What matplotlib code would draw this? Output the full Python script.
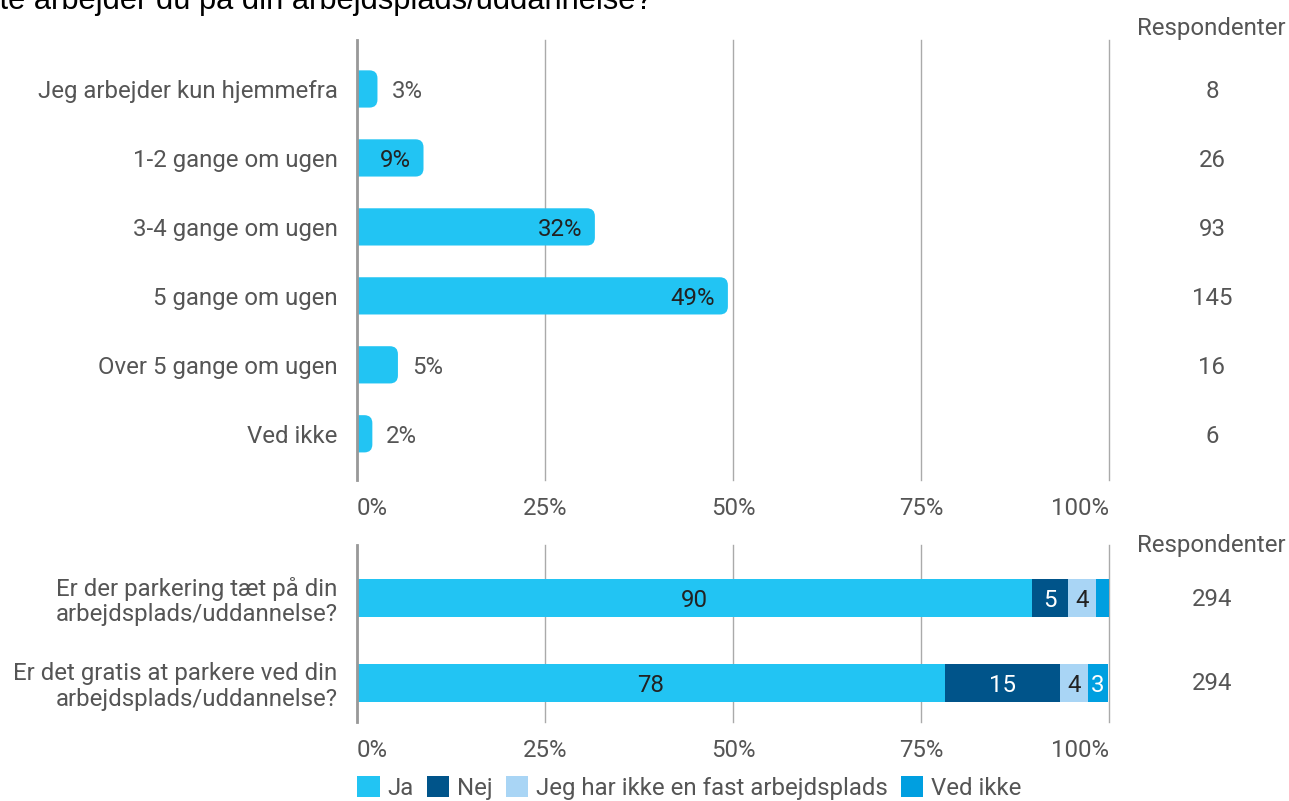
import matplotlib

matplotlib.use("Agg")
import matplotlib.pyplot as plt
from matplotlib.patches import FancyBboxPatch, Patch

# -- data
TITLE = "Hvor ofte arbejder du på din arbejdsplads/uddannelse?"
freq_labels = ["Jeg arbejder kun hjemmefra", "1-2 gange om ugen", "3-4 gange om ugen",
               "5 gange om ugen", "Over 5 gange om ugen", "Ved ikke"]
freq_counts = [8, 26, 93, 145, 16, 6]

park_labels = ["Er der parkering tæt på din\narbejdsplads/uddannelse?",
               "Er det gratis at parkere ved din\narbejdsplads/uddannelse?"]
park_series = ["Ja", "Nej", "Jeg har ikke en fast arbejdsplads", "Ved ikke"]
park_ja = [89.8, 78.2]
park_nej = [4.8, 15.3]
park_ingen = [3.7, 3.7]
park_vedikke = [1.7, 2.7]
park_respondents = [294, 294]
x_ticks = [0, 25, 50, 75, 100]

# -- style
BAR = "#22c4f3"
SERIES_COLORS = ["#22c4f3", "#00548a", "#a9d5f5", "#009fe0"]
LABEL_ON = ["#222222", "#ffffff", "#222222", "#ffffff"]
TEXT = "#555555"
DARK = "#222222"
GRID = "#aaaaaa"
FONT = "Roboto"
FS = 17.3

W, H = 1289, 801
fig = plt.figure(figsize=(W / 100, H / 100), dpi=100)
fig.patch.set_facecolor("white")


def px(x0, y0, x1, y1):
    return [x0 / W, 1 - y1 / H, (x1 - x0) / W, (y1 - y0) / H]


ax_top = fig.add_axes(px(357, 40, 1109, 480))
ax_bot = fig.add_axes(px(357, 545, 1109, 722))

# -- 1) frequency bars (rounded right end)
total = sum(freq_counts)
shares = [c / total * 100 for c in freq_counts]
ax_top.set_xlim(0, 100)
ax_top.set_ylim(5.67, -0.71)
bh = 0.54
x_per_px = 100 / 752
y_per_px = 6.38 / 440
aspect = y_per_px / x_per_px
for i, v in enumerate(shares):
    box = FancyBboxPatch((-3, i - bh / 2), v + 3, bh,
                         boxstyle=f"round,pad=0,rounding_size={8 * x_per_px}",
                         mutation_aspect=aspect, facecolor=BAR, edgecolor="none", zorder=3)
    ax_top.add_patch(box)
    lab = f"{v:.0f}%"
    if v > 7:
        ax_top.text(v - 13 * x_per_px, i, lab, ha="right", va="center_baseline", color=DARK,
                    fontsize=FS, family=FONT, zorder=4)
    else:
        ax_top.text(v + 14 * x_per_px, i, lab, ha="left", va="center_baseline", color=TEXT,
                    fontsize=FS, family=FONT, zorder=4)
    ax_top.text(1212 / W, 1 - (89 + 69 * i) / H, f"{freq_counts[i]}", transform=fig.transFigure,
                ha="center", va="center_baseline", color=TEXT, fontsize=FS, family=FONT)
ax_top.set_yticks(range(len(freq_labels)))
ax_top.set_yticklabels(freq_labels)

# -- 2) parking stacked bars
ax_bot.set_xlim(0, 100)
ax_bot.set_ylim(1.46, -0.62)
rows = list(range(len(park_labels)))
left = [0.0] * len(rows)
for s, (name, vals) in enumerate(zip(park_series, [park_ja, park_nej, park_ingen, park_vedikke])):
    ax_bot.barh(rows, vals, left=left, height=0.45, color=SERIES_COLORS[s],
                edgecolor="none", zorder=3, label=name)
    for r in rows:
        if vals[r] >= 2.5:
            ax_bot.text(left[r] + vals[r] / 2, r, f"{vals[r]:.0f}", ha="center",
                        va="center_baseline", color=LABEL_ON[s], fontsize=FS, family=FONT,
                        zorder=4)
    left = [a + b for a, b in zip(left, vals)]
for r in rows:
    ax_bot.text(1212 / W, 1 - (597 + 84 * r) / H, f"{park_respondents[r]}",
                transform=fig.transFigure, ha="center", va="center_baseline", color=TEXT,
                fontsize=FS, family=FONT)
ax_bot.set_yticks(rows)
ax_bot.set_yticklabels(park_labels, linespacing=1.15)

# -- shared axis styling
for ax in (ax_top, ax_bot):
    ax.set_xticks(x_ticks)
    ax.set_xticklabels([f"{t}%" for t in x_ticks])
    for lab, ha in zip(ax.get_xticklabels(), ["left", "center", "center", "center", "right"]):
        lab.set_horizontalalignment(ha)
    ax.grid(axis="x", color=GRID, linewidth=1.0, zorder=0)
    for gl in ax.get_xgridlines():
        gl.set_clip_on(False)
    ax.set_axisbelow(True)
    for side in ("top", "right", "bottom"):
        ax.spines[side].set_visible(False)
    ax.spines["left"].set_color("#999999")
    ax.spines["left"].set_linewidth(2)
    ax.spines["left"].set_zorder(5)
    ax.tick_params(length=0, colors=TEXT, labelsize=FS)
    ax.tick_params(axis="y", pad=14)
    ax.tick_params(axis="x", pad=12)
    for lab in ax.get_xticklabels() + ax.get_yticklabels():
        lab.set_family(FONT)
    ax.text(1211 / W, 1 - (26 if ax is ax_top else 543) / H, "Respondenter",
            transform=fig.transFigure, ha="center", va="center_baseline", color=TEXT,
            fontsize=FS, family=FONT)

# title, clipped at the top of the image as in the source
fig.text(652 / W, 1 - 9 / H, TITLE, ha="right", va="baseline", fontsize=22.25,
         family="Liberation Sans", color="#000000")

handles = [Patch(facecolor=c, edgecolor="none", label=n) for c, n in zip(SERIES_COLORS, park_series)]
fig.legend(handles=handles, loc="center left", bbox_to_anchor=(357 / W, 1 - 788 / H), ncol=4,
           frameon=False, borderpad=0, borderaxespad=0, handlelength=0.95, handleheight=0.95,
           handletextpad=0.3, columnspacing=0.55, prop={"family": FONT, "size": FS},
           labelcolor=TEXT)

fig.savefig("out.png", dpi=100, facecolor="white")
